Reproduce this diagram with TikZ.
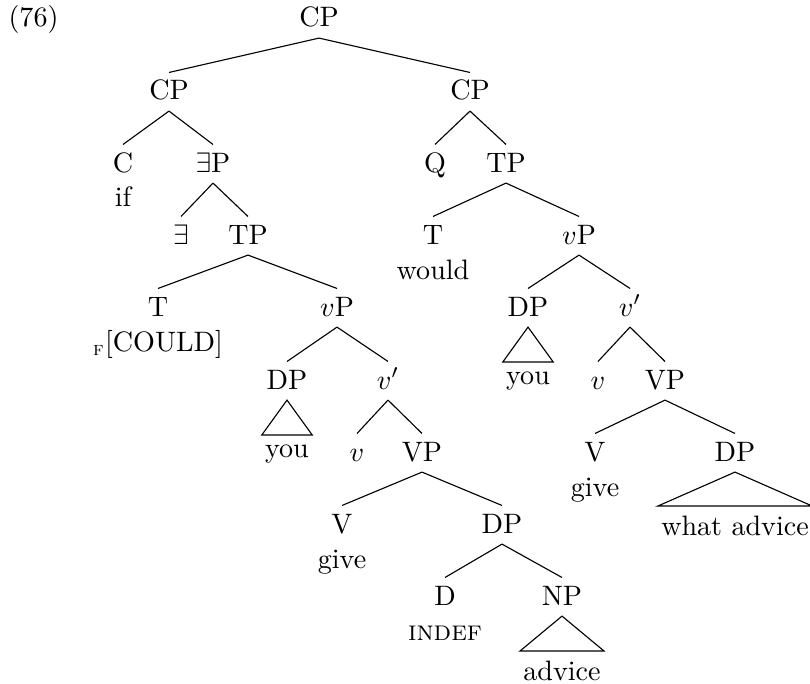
\documentclass[tikz,border=0pt]{standalone}
\usepackage{amsmath,amssymb}
\usepackage{tikz}
\tikzset{cat/.style={anchor=base,text height=6.3pt,text depth=0.45pt,inner xsep=2pt,inner ysep=3.3pt},
         word/.style={anchor=base,inner sep=0pt},
         leaf/.style={anchor=north,inner xsep=1pt,inner ysep=3.33pt}}

\begin{document}
\begin{tikzpicture}[x=0.356pt,y=-0.356pt]
    \useasboundingbox (0,0) rectangle (810,683);
    \node[word] (exno) at (33.5,27) {(76)};

    % categories
    \node[cat] (cp) at (319,27) {CP};
    \node[cat] (cpa) at (169,100) {CP};
    \node[cat] (cpb) at (470,100) {CP};
    \node[cat] (ca) at (123,172) {C};
    \node[cat] (epa) at (213,172) {$\exists$P};
    \node[cat] (qb) at (435,172) {Q};
    \node[cat] (tpb) at (506,172) {TP};
    \node[cat] (exa) at (181,244) {$\exists$};
    \node[cat] (tpa) at (248,244) {TP};
    \node[cat] (tb) at (433,244) {T};
    \node[cat] (vpb) at (579,244) {$v$P};
    \node[cat] (ta) at (158,316) {T};
    \node[cat] (vpa) at (337,316) {$v$P};
    \node[cat] (dpb) at (528,316) {DP};
    \node[cat] (vbarb) at (630,316) {$v'$};
    \node[cat] (dpa) at (287,389) {DP};
    \node[cat] (vbara) at (388,389) {$v'$};
    \node[cat] (vb) at (598,389) {$v$};
    \node[cat] (VPb) at (665,389) {VP};
    \node[cat] (va) at (357,461) {$v$};
    \node[cat] (VPa) at (422,461) {VP};
    \node[cat] (Vb) at (595,461) {V};
    \node[cat] (dpob) at (735,461) {DP};
    \node[cat] (Va) at (342,533) {V};
    \node[cat] (dpoa) at (502,533) {DP};
    \node[cat] (da) at (445,605) {D};
    \node[cat] (npa) at (562,605) {NP};

    % words under heads
    \node[word] (ifa) at (123,207) {if};
    \node[word] (wouldb) at (433,279) {would};
    \node[word] (coulda) at (158,351) {$_{\text{\textsc{f}}}$[COULD]};
    \node[word] (givea) at (342,568) {give};
    \node[word] (giveb) at (595,496) {give};
    \node[word] (indefa) at (445,640) {\textsc{indef}};

    % roofed leaves
    \node[leaf] (youa) at (287,435) {you};
    \node[leaf] (youb) at (528,362) {you};
    \node[leaf] (advicea) at (562,651) {advice};
    \node[leaf] (whatb) at (735,506) {what advice};

    \draw (cp.south) -- (cpa.north) (cp.south) -- (cpb.north);
    \draw (cpa.south) -- (ca.north) (cpa.south) -- (epa.north);
    \draw (epa.south) -- (exa.north) (epa.south) -- (tpa.north);
    \draw (tpa.south) -- (ta.north) (tpa.south) -- (vpa.north);
    \draw (vpa.south) -- (dpa.north) (vpa.south) -- (vbara.north);
    \draw (vbara.south) -- (va.north) (vbara.south) -- (VPa.north);
    \draw (VPa.south) -- (Va.north) (VPa.south) -- (dpoa.north);
    \draw (dpoa.south) -- (da.north) (dpoa.south) -- (npa.north);

    \draw (cpb.south) -- (qb.north) (cpb.south) -- (tpb.north);
    \draw (tpb.south) -- (tb.north) (tpb.south) -- (vpb.north);
    \draw (vpb.south) -- (dpb.north) (vpb.south) -- (vbarb.north);
    \draw (vbarb.south) -- (vb.north) (vbarb.south) -- (VPb.north);
    \draw (VPb.south) -- (Vb.north) (VPb.south) -- (dpob.north);

    \draw (dpa.south) -- (youa.north west) -- (youa.north east) -- cycle;
    \draw (dpb.south) -- (youb.north west) -- (youb.north east) -- cycle;
    \draw (npa.south) -- (advicea.north west) -- (advicea.north east) -- cycle;
    \draw (dpob.south) -- (whatb.north west) -- (whatb.north east) -- cycle;
\end{tikzpicture}
\end{document}
